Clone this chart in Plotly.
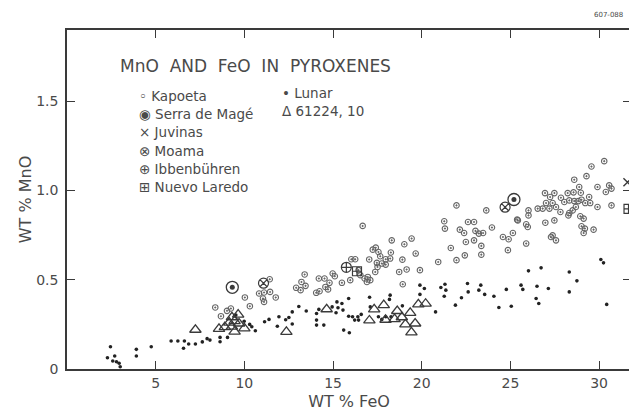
import plotly.graph_objects as go

# ---------------- data ----------------
kapoeta_x = [8.36, 8.68, 9.02, 9.24, 10.03, 10.31, 10.83, 11.11, 11.45, 11.05, 11.11, 11.77, 11.43,
             12.92, 13.17, 13.22, 13.45, 13.40, 14.05, 14.24, 14.20, 14.52, 14.57, 14.72, 14.80, 14.98,
             15.10, 15.50, 16.03, 16.25, 15.97,
             16.67, 18.31, 19.02, 17.41, 17.24, 17.56, 17.66, 18.26, 18.22, 17.97, 17.47, 17.51, 17.38,
             17.04, 17.75, 17.97, 18.91, 18.73, 18.93, 16.96, 16.91, 17.10, 16.78, 16.54, 16.44,
             21.96, 23.64, 21.27, 21.31, 22.61, 22.95, 22.15, 22.39, 23.03, 23.22, 23.46, 23.96, 22.49,
             22.95, 23.36, 23.36, 21.64, 22.43, 21.96, 20.93, 19.66, 19.43, 19.90, 19.15, 24.58, 24.90,
             24.86, 25.38, 25.14,
             29.57, 30.29, 29.29, 28.60, 28.88, 29.91, 30.38, 30.57, 30.70, 26.95, 27.24, 27.48, 27.85,
             28.23, 28.56, 28.97, 28.04, 28.32, 28.60, 28.83, 29.01, 29.22, 29.44, 29.50, 27.01, 27.38,
             26.54, 26.82, 27.20, 27.57, 27.82, 28.32, 28.51, 28.69, 28.27, 28.94, 29.13, 29.01, 29.20,
             29.13, 29.69, 29.91, 30.70, 26.02, 26.02, 25.89, 25.98, 25.42, 26.97, 27.48, 27.38, 27.29,
             27.57, 25.89]
kapoeta_y = [0.345, 0.296, 0.326, 0.339, 0.401, 0.352, 0.423, 0.429, 0.432, 0.395, 0.376, 0.401, 0.503,
             0.455, 0.442, 0.488, 0.466, 0.530, 0.427, 0.436, 0.507, 0.507, 0.460, 0.446, 0.483, 0.535,
             0.520, 0.483, 0.615, 0.615, 0.498,
             0.802, 0.721, 0.699, 0.680, 0.669, 0.656, 0.632, 0.653, 0.619, 0.615, 0.595, 0.572, 0.544,
             0.614, 0.591, 0.585, 0.613, 0.544, 0.475, 0.516, 0.488, 0.498, 0.507, 0.526, 0.554,
             0.917, 0.889, 0.828, 0.787, 0.824, 0.824, 0.781, 0.762, 0.774, 0.759, 0.762, 0.793, 0.712,
             0.721, 0.690, 0.641, 0.678, 0.637, 0.610, 0.600, 0.647, 0.731, 0.554, 0.558, 0.740, 0.727,
             0.666, 0.837, 0.762,
             1.135, 1.165, 1.081, 1.061, 1.020, 1.020, 0.992, 1.029, 1.011, 0.986, 0.964, 0.986, 0.960,
             0.986, 0.990, 0.988, 0.936, 0.945, 0.941, 0.941, 0.949, 0.930, 0.964, 0.930, 0.930, 0.930,
             0.899, 0.899, 0.899, 0.908, 0.880, 0.874, 0.889, 0.908, 0.861, 0.856, 0.843, 0.800, 0.787,
             0.762, 0.781, 0.908, 0.917, 0.889, 0.861, 0.811, 0.796, 0.833, 0.820, 0.833, 0.749, 0.740,
             0.721, 0.703]

serra_x = [9.32, 25.20]
serra_y = [0.458, 0.950]
juvinas_x = [31.60]
juvinas_y = [1.047]
moama_x = [11.08, 24.70]
moama_y = [0.481, 0.907]
ibben_x = [15.75]
ibben_y = [0.570]
nuevo_x = [16.35, 31.66]
nuevo_y = [0.548, 0.897]

lunar_x = [2.45, 2.28, 2.69, 2.79, 2.94, 3.00, 2.58, 3.91, 3.91, 4.75,
           5.87, 6.25, 6.62, 6.57, 6.86, 7.24, 7.63, 7.90, 8.06, 8.63, 8.63, 9.05,
           9.52, 9.99, 10.30, 10.42, 10.62, 11.14, 11.39, 11.86, 11.95, 12.33, 12.51, 12.70, 12.70,
           13.07, 13.49, 14.07, 14.07, 14.07, 14.48, 14.20, 14.95, 15.22, 15.28, 15.17, 15.50, 15.56,
           15.88, 15.88, 16.10, 16.40, 16.59, 16.44, 16.22, 15.60, 15.92, 17.06, 17.10, 18.22, 18.18,
           17.56, 17.75, 17.97, 18.27, 18.91, 19.90, 20.15, 19.90, 20.78, 21.08, 21.31, 21.36, 21.27,
           21.90, 22.24, 22.58, 22.62, 23.22, 23.33, 23.55, 24.07, 24.35, 24.77, 25.05, 25.60, 25.70,
           26.02, 26.73, 26.50, 27.14, 26.45, 26.60, 28.32, 28.75, 28.32, 30.10, 30.25, 30.43]
lunar_y = [0.125, 0.063, 0.073, 0.041, 0.032, 0.013, 0.045, 0.110, 0.073, 0.125,
           0.157, 0.157, 0.157, 0.116, 0.140, 0.140, 0.152, 0.170, 0.162, 0.177, 0.153, 0.177,
           0.302, 0.268, 0.250, 0.237, 0.214, 0.265, 0.278, 0.240, 0.293, 0.276, 0.289, 0.252, 0.320,
           0.350, 0.325, 0.311, 0.274, 0.246, 0.246, 0.334, 0.348, 0.376, 0.343, 0.315, 0.367, 0.330,
           0.395, 0.296, 0.293, 0.293, 0.306, 0.274, 0.274, 0.218, 0.203, 0.402, 0.348, 0.414, 0.390,
           0.293, 0.278, 0.293, 0.293, 0.354, 0.470, 0.451, 0.418, 0.320, 0.457, 0.475, 0.442, 0.408,
           0.358, 0.399, 0.479, 0.432, 0.442, 0.470, 0.418, 0.408, 0.345, 0.446, 0.352, 0.470, 0.446,
           0.550, 0.567, 0.464, 0.451, 0.395, 0.367, 0.544, 0.494, 0.432, 0.614, 0.595, 0.362]

tri_x = [7.24, 8.57, 8.90, 9.15, 9.30, 9.45, 9.65, 9.70, 9.30, 9.45, 10.00, 12.37, 14.64,
         17.05, 17.32, 17.86, 17.96, 18.47, 18.62, 18.88, 19.08, 19.35, 19.42, 19.63, 19.81, 20.22]
tri_y = [0.220, 0.225, 0.235, 0.260, 0.290, 0.268, 0.305, 0.255, 0.237, 0.209, 0.228, 0.208, 0.335,
         0.272, 0.334, 0.358, 0.276, 0.280, 0.325, 0.290, 0.250, 0.315, 0.205, 0.255, 0.362, 0.366]

x_ticks = [5, 10, 15, 20, 25, 30]
x_ticklabels = ["5", "10", "15", "20", "25", "30"]
y_ticks = [0, 0.5, 1.0, 1.5]
y_ticklabels = ["0", "0.5", "1.0", "1.5"]

legend_left = ["◦ Kapoeta", "◉ Serra de Magé", "× Juvinas", "⊗ Moama", "⊕ Ibbenbühren", "⊞ Nuevo Laredo"]
legend_right = ["• Lunar", "Δ 61224, 10"]
chart_title = "MnO  AND  FeO  IN  PYROXENES"

INK = "#3a3a3a"
TXT = "#4a4a4a"
FONT = "DejaVu Sans"

# figure sized to sit inside the page's 8px body margin
W, H = 629, 405
ML, MR, MT, MB = 59, 4, 22, 44
PW, PH = W - ML - MR, H - MT - MB


def px_to_paper(px, py):
    """page pixel -> paper coordinate (page = figure + 8px body margin)"""
    fx, fy = px - 8, py - 8
    return (fx - ML) / PW, (H - MB - fy) / PH


fig = go.Figure()

fig.add_trace(go.Scatter(x=kapoeta_x, y=kapoeta_y, mode="markers", name="Kapoeta",
                         marker=dict(symbol="circle-open-dot", size=5.5, color="#666666", line=dict(width=1.1))))
fig.add_trace(go.Scatter(x=serra_x, y=serra_y, mode="markers", name="Serra de Magé",
                         marker=dict(symbol="circle-open", size=12, color=INK, line=dict(width=1.3))))
fig.add_trace(go.Scatter(x=serra_x, y=serra_y, mode="markers", showlegend=False, hoverinfo="skip",
                         marker=dict(symbol="circle", size=5, color=INK)))
fig.add_trace(go.Scatter(x=juvinas_x, y=juvinas_y, mode="markers", name="Juvinas",
                         marker=dict(symbol="x-thin-open", size=8, color=INK, line=dict(width=1.4))))
fig.add_trace(go.Scatter(x=moama_x, y=moama_y, mode="markers", name="Moama",
                         marker=dict(symbol="circle-x-open", size=10, color=INK, line=dict(width=1.2))))
fig.add_trace(go.Scatter(x=ibben_x, y=ibben_y, mode="markers", name="Ibbenbühren",
                         marker=dict(symbol="circle-cross-open", size=10, color=INK, line=dict(width=1.2))))
fig.add_trace(go.Scatter(x=nuevo_x, y=nuevo_y, mode="markers", name="Nuevo Laredo",
                         marker=dict(symbol="square-cross-open", size=9, color=INK, line=dict(width=1.2))))
fig.add_trace(go.Scatter(x=lunar_x, y=lunar_y, mode="markers", name="Lunar",
                         marker=dict(symbol="circle", size=3.6, color="#222222")))
fig.add_trace(go.Scatter(x=tri_x, y=tri_y, mode="markers", name="61224, 10",
                         marker=dict(symbol="triangle-up-open", size=10, color=INK, line=dict(width=1.3))))

axis_common = dict(showline=True, linecolor=INK, linewidth=1.6, mirror="ticks",
                   ticks="inside", ticklen=8, tickwidth=1.4, tickcolor=INK,
                   showgrid=False, zeroline=False,
                   tickfont=dict(family=FONT, size=14, color=TXT))

annotations = []
tx, ty = px_to_paper(118, 66)
annotations.append(dict(text=chart_title, xref="paper", yref="paper", x=tx, y=ty,
                        xanchor="left", yanchor="middle", showarrow=False,
                        font=dict(family=FONT, size=17, color=TXT)))
left_rows_y = [96, 114, 132, 150.5, 168.5, 186.5]
for label, py in zip(legend_left, left_rows_y):
    ax, ay = px_to_paper(137, py)
    annotations.append(dict(text=label, xref="paper", yref="paper", x=ax, y=ay,
                            xanchor="left", yanchor="middle", showarrow=False,
                            font=dict(family=FONT, size=13.5, color=TXT)))
right_rows_y = [93, 111]
for label, py in zip(legend_right, right_rows_y):
    ax, ay = px_to_paper(281, py)
    annotations.append(dict(text=label, xref="paper", yref="paper", x=ax, y=ay,
                            xanchor="left", yanchor="middle", showarrow=False,
                            font=dict(family=FONT, size=13.5, color=TXT)))
cx, cy = px_to_paper(627, 15)
annotations.append(dict(text="607-088", xref="paper", yref="paper", x=cx, y=cy, xanchor="right",
                        yanchor="middle", showarrow=False, font=dict(family=FONT, size=7, color=TXT)))

fig.update_layout(
    width=W, height=H,
    margin=dict(l=ML, r=MR, t=MT, b=MB),
    paper_bgcolor="white", plot_bgcolor="white",
    showlegend=False,
    xaxis=dict(range=[0, 31.8], tickvals=x_ticks, ticktext=x_ticklabels,
               title=dict(text="WT % FeO", font=dict(family=FONT, size=16, color=TXT), standoff=6),
               **axis_common),
    yaxis=dict(range=[0, 1.9], tickvals=y_ticks, ticktext=y_ticklabels, ticklabelstandoff=4,
               title=dict(text="WT % MnO", font=dict(family=FONT, size=16, color=TXT), standoff=1),
               **axis_common),
    annotations=annotations,
)

fig.write_html("out.html")
